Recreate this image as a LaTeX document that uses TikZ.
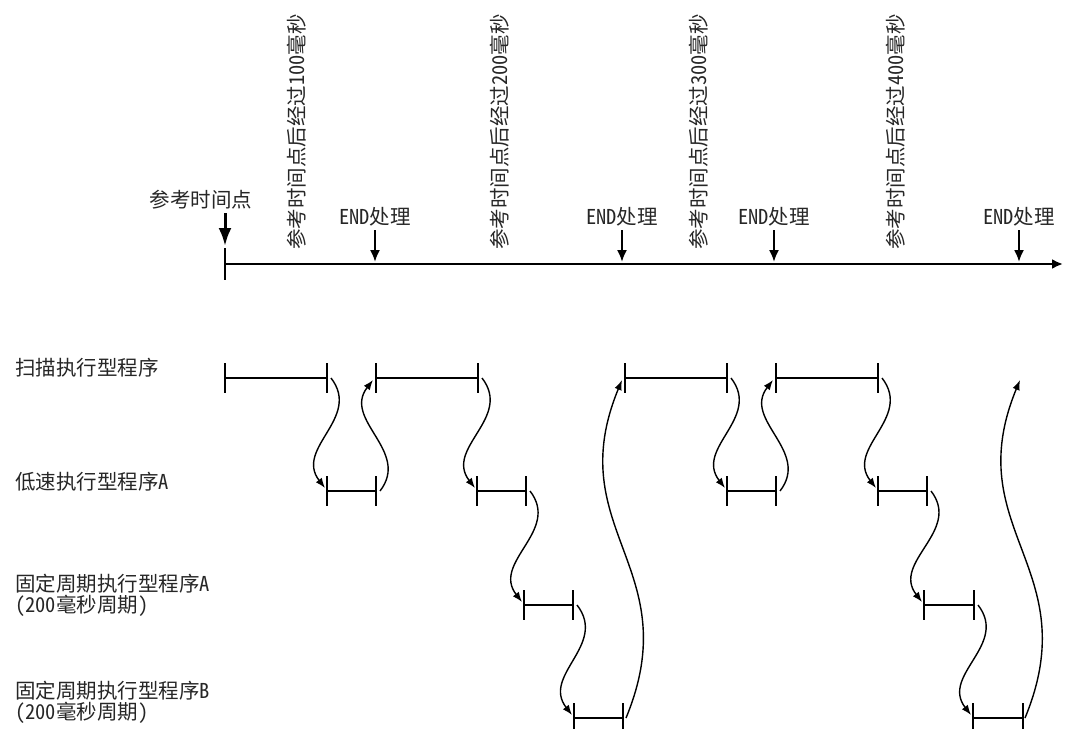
\documentclass[tikz,border=0pt]{standalone}
\usepackage{fontspec}
\setmainfont{Noto Sans CJK SC}[RawFeature=+hwid]
\usetikzlibrary{arrows.meta}
\begin{document}
\begin{tikzpicture}[x=1bp,y=-1bp,
  every node/.style={inner sep=0pt,outer sep=0pt,text=black!85,font=\fontsize{20.5bp}{21bp}\selectfont},
  lbl/.style={anchor=west,align=left},
  bar/.style={line width=2.6bp,line cap=butt},
  curve/.style={line width=1.4bp,-{Latex[length=10bp,width=7.5bp]}},
  endarrow/.style={line width=2bp,-{Latex[length=12bp,width=10bp]}},
  bigarrow/.style={line width=3bp,-{Latex[length=18bp,width=13bp]}},
  axis/.style={line width=2.4bp,-{Latex[length=11bp,width=10bp]}}]
\useasboundingbox (0,0) rectangle (1065,729);

% time axis
\coordinate (t0) at (225,264);
\coordinate (tend) at (1063,264);
\draw[axis] (t0) -- (tend);
\draw[bar] (225,248) -- (225,280);

% reference point
\node (ref) at (201,200) {参考时间点};
\coordinate (refTop) at (225,213);
\coordinate (refTip) at (225,246);
\draw[bigarrow] (refTop) -- (refTip);

% END labels and arrows
\foreach \i/\x in {1/375,2/622,3/774,4/1019}{
  \node (end\i) at (\x,217) {END处理};
  \coordinate (endTop\i) at (\x,230);
  \coordinate (endTip\i) at (\x,262);
  \draw[endarrow] (endTop\i) -- (endTip\i);
}

% vertical labels
\node[rotate=90] (v1) at (297,132) {参考时间点后经过100毫秒};
\node[rotate=90] (v2) at (500,132) {参考时间点后经过200毫秒};
\node[rotate=90] (v3) at (699,132) {参考时间点后经过300毫秒};
\node[rotate=90] (v4) at (896,132) {参考时间点后经过400毫秒};

% row labels
\node[lbl] (rS) at (15,368) {扫描执行型程序};
\node[lbl] (rL) at (15,482) {低速执行型程序A};
\node[lbl] (rA) at (15,595) {固定周期执行型程序A\\(200毫秒周期)};
\node[lbl] (rB) at (15,702) {固定周期执行型程序B\\(200毫秒周期)};

% bar endpoints
\foreach \n/\xa/\xb/\y in {s1/225/327/378,s2/376/478/378,s3/625/727/378,s4/776/878/378,
  l1/327/376/491,l2/477/526/491,l3/727/776/491,l4/878/927/491,
  a1/524/573/605,a2/924/974/605,
  b1/574/623/718,b2/973/1023/718}{
  \coordinate (\n-a) at (\xa,\y);
  \coordinate (\n-b) at (\xb,\y);
}
\foreach \n in {s1,s2,s3,s4,l1,l2,l3,l4,a1,a2,b1,b2}{
  \draw[bar] (\n-a) -- (\n-b);
  \draw[bar] ([yshift=15bp]\n-a) -- ([yshift=-15bp]\n-a);
  \draw[bar] ([yshift=15bp]\n-b) -- ([yshift=-15bp]\n-b);
}

% downward S-curves
\foreach \p/\q in {s1/l1,s2/l2,l2/a1,a1/b1,s3/l3,s4/l4,l4/a2,a2/b2}{
  \draw[curve] ([xshift=4bp]\p-b) .. controls +(31,40) and +(-31,-40) .. ([xshift=-2bp,yshift=3bp]\q-a);
}
% upward short S-curves
\foreach \p/\q in {l1/s2,l3/s4}{
  \draw[curve] ([xshift=4bp]\p-b) .. controls +(31,-40) and +(-31,40) .. ([xshift=-3bp,yshift=-2bp]\q-a);
}
% upward long S-curves
\coordinate (free) at (1020,380);
\draw[curve] ([xshift=3bp]b1-b) .. controls +(62,-150) and +(-62,150) .. ([xshift=-3bp,yshift=-2bp]s3-a);
\draw[curve] ([xshift=2bp]b2-b) .. controls +(62,-150) and +(-62,150) .. (free);
\end{tikzpicture}
\end{document}
